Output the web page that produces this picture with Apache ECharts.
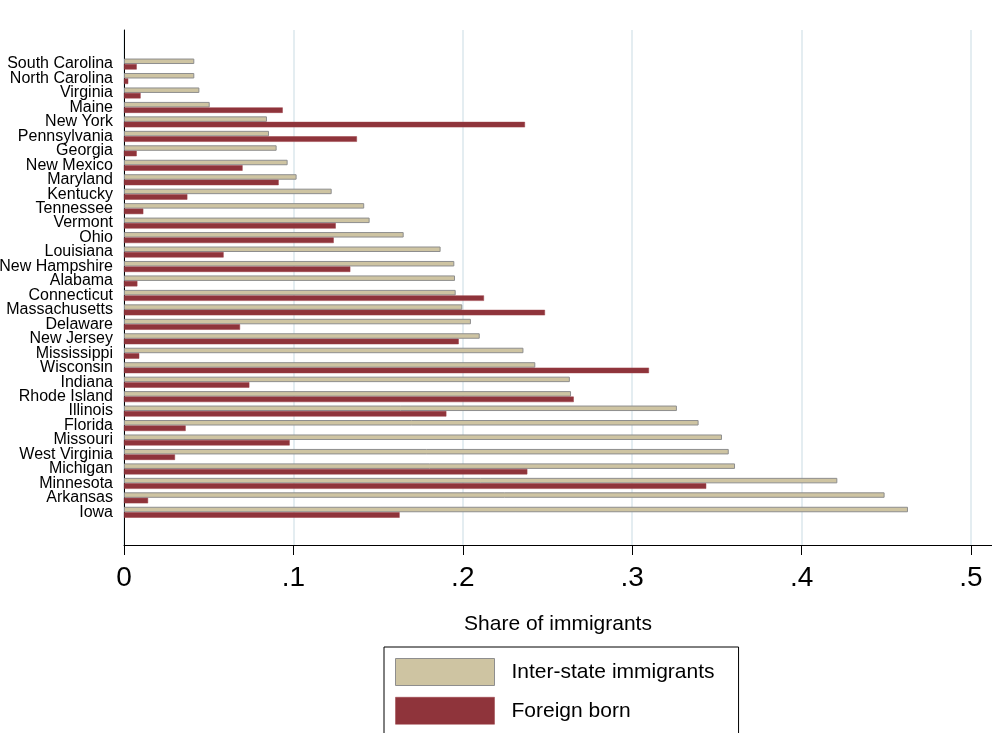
<!DOCTYPE html>
<html>
<head>
<meta charset="utf-8">
<script src="https://cdn.jsdelivr.net/npm/echarts@6/dist/echarts.min.js"></script>
<style>
html,body{margin:0;padding:0;background:#fff;}
#chart{width:992px;height:733px;}
</style>
</head>
<body>
<div id="chart"></div>
<script>
var states = ["South Carolina","North Carolina","Virginia","Maine","New York","Pennsylvania","Georgia","New Mexico","Maryland","Kentucky","Tennessee","Vermont","Ohio","Louisiana","New Hampshire","Alabama","Connecticut","Massachusetts","Delaware","New Jersey","Mississippi","Wisconsin","Indiana","Rhode Island","Illinois","Florida","Missouri","West Virginia","Michigan","Minnesota","Arkansas","Iowa"];
var interState = [0.0415,0.0415,0.0445,0.0506,0.0844,0.0856,0.0901,0.0966,0.1019,0.1226,0.1418,0.1450,0.1651,0.1869,0.1950,0.1954,0.1958,0.1997,0.2048,0.2100,0.2358,0.2428,0.2632,0.2639,0.3264,0.3392,0.3530,0.3570,0.3607,0.4211,0.4490,0.4628];
var foreignBorn = [0.0075,0.0025,0.0098,0.0937,0.2367,0.1375,0.0075,0.0700,0.0913,0.0374,0.0114,0.1250,0.1238,0.0588,0.1336,0.0079,0.2125,0.2485,0.0685,0.1976,0.0090,0.3099,0.0740,0.2655,0.1903,0.0364,0.0978,0.0301,0.2381,0.3437,0.0142,0.1627];
var tickValues = [0,0.1,0.2,0.3,0.4,0.5];
var tickLabels = ["0",".1",".2",".3",".4",".5"];
var seriesNames = ["Inter-state immigrants","Foreign born"];

var FONT = "'Liberation Sans', Arial, sans-serif";
var TAN = "#cec4a2", TAN_BORDER = "#8e8e8e";
var RED = "#8f343b", RED_BORDER = "#9a3e46";
var XMAX = 0.5124;

var chart = echarts.init(document.getElementById('chart'), null, {renderer:'canvas'});
chart.setOption({
  backgroundColor: '#ffffff',
  animation: false,
  textStyle: {fontFamily: FONT},
  grid: [
    {left: 124, right: 0, top: 30, bottom: 188, outerBoundsMode: 'none', containLabel: false},
    {left: 124, right: 0, top: 56.8, height: 462.7, outerBoundsMode: 'none', containLabel: false}
  ],
  xAxis: [
    {
      type: 'value', gridIndex: 0, min: 0, max: XMAX, interval: 0.1,
      axisLine: {show: true, lineStyle: {color: '#000', width: 1}},
      axisTick: {show: true, length: 10, lineStyle: {color: '#000', width: 1}, customValues: tickValues},
      axisLabel: {
        show: true, customValues: tickValues, fontSize: 28, color: '#000', fontFamily: FONT, margin: 19,
        formatter: function (v) {
          for (var i = 0; i < tickValues.length; i++) {
            if (Math.abs(v - tickValues[i]) < 1e-9) return tickLabels[i];
          }
          return '';
        }
      },
      splitLine: {show: true, lineStyle: {color: '#e4edf1', width: 2}},
      name: 'Share of immigrants', nameLocation: 'middle', nameGap: 69,
      nameTextStyle: {fontSize: 21, color: '#000', fontFamily: FONT}
    },
    {
      type: 'value', gridIndex: 1, min: 0, max: XMAX,
      axisLine: {show: false}, axisTick: {show: false}, axisLabel: {show: false}, splitLine: {show: false}
    }
  ],
  yAxis: [
    {
      type: 'value', gridIndex: 0, min: 0, max: 1,
      axisLine: {show: true, onZero: false, lineStyle: {color: '#000', width: 1}},
      axisTick: {show: false}, axisLabel: {show: false}, splitLine: {show: false}
    },
    {
      type: 'category', gridIndex: 1, data: states, inverse: true,
      axisLine: {show: false}, axisTick: {show: false},
      axisLabel: {show: true, fontSize: 16, color: '#000', fontFamily: FONT, margin: 11, interval: 0},
      splitLine: {show: false}
    }
  ],
  legend: {
    show: true, orient: 'vertical', left: 384, top: 647, height: 120,
    padding: [11, 24, 12, 11], itemGap: 11, itemWidth: 99, itemHeight: 27,
    borderColor: '#000', borderWidth: 1, backgroundColor: '#fff',
    selectedMode: false,
    textStyle: {fontSize: 21, color: '#000', fontFamily: FONT, padding: [0, 0, 0, 12]},
    data: [
      {name: seriesNames[0], icon: 'rect', itemStyle: {color: TAN, borderColor: TAN_BORDER, borderWidth: 1}},
      {name: seriesNames[1], icon: 'rect', itemStyle: {color: RED, borderColor: RED_BORDER, borderWidth: 0.5}}
    ]
  },
  series: [
    {
      name: seriesNames[0], type: 'bar', xAxisIndex: 1, yAxisIndex: 1, data: interState,
      barGap: '0%', barCategoryGap: '24%',
      itemStyle: {color: TAN, borderColor: TAN_BORDER, borderWidth: 1}
    },
    {
      name: seriesNames[1], type: 'bar', xAxisIndex: 1, yAxisIndex: 1, data: foreignBorn,
      barGap: '0%', barCategoryGap: '24%',
      itemStyle: {color: RED, borderColor: RED_BORDER, borderWidth: 0.5}
    }
  ]
});
</script>
</body>
</html>
